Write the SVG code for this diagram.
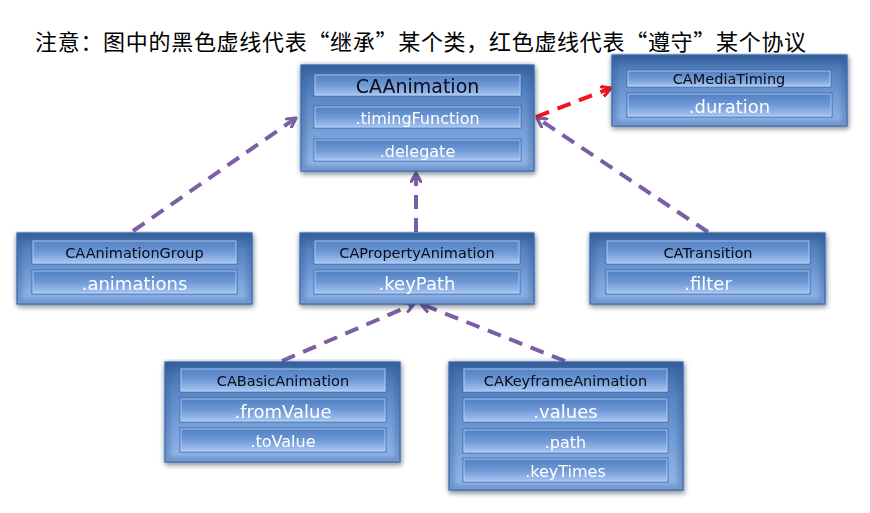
<svg xmlns="http://www.w3.org/2000/svg" width="870" height="513" viewBox="0 0 870 513">
<defs>
<linearGradient id="gOuter" x1="0" y1="0" x2="0" y2="1">
<stop offset="0" stop-color="#38659f"/>
<stop offset="0.25" stop-color="#5683c2"/>
<stop offset="1" stop-color="#95b9ec"/>
</linearGradient>
<linearGradient id="gRow" x1="0" y1="0" x2="0" y2="1">
<stop offset="0" stop-color="#4f7ebf"/>
<stop offset="0.5" stop-color="#6e98d6"/>
<stop offset="1" stop-color="#a9c8f3"/>
</linearGradient>
<filter id="shadow" x="-10%" y="-10%" width="120%" height="130%">
<feGaussianBlur in="SourceAlpha" stdDeviation="2"/>
<feOffset dx="1" dy="3" result="b"/>
<feComponentTransfer><feFuncA type="linear" slope="0.35"/></feComponentTransfer>
<feMerge><feMergeNode/><feMergeNode in="SourceGraphic"/></feMerge>
</filter>
<filter id="glow" x="-5%" y="-5%" width="110%" height="110%">
<feGaussianBlur stdDeviation="2.5"/>
</filter>
<marker id="ap" viewBox="0 0 12 12" refX="10" refY="6" markerWidth="12" markerHeight="12" markerUnits="userSpaceOnUse" orient="auto">
<path d="M1,1 L10,6 L1,11" fill="none" stroke="#7b5ea6" stroke-width="3.2" stroke-linecap="round" stroke-linejoin="round"/>
</marker>
<marker id="ar" viewBox="0 0 12 12" refX="10" refY="6" markerWidth="12" markerHeight="12" markerUnits="userSpaceOnUse" orient="auto">
<path d="M1,1 L10,6 L1,11" fill="none" stroke="#f0141c" stroke-width="3.2" stroke-linecap="round" stroke-linejoin="round"/>
</marker>
</defs>
<style>
.outer{fill:url(#gOuter);stroke:#3c6cad;stroke-width:1.2}
.edge{fill:none;stroke:#2c5592;stroke-width:5;opacity:0.45}
.row{fill:url(#gRow);stroke:#3e6cae;stroke-width:1}
.hl{fill:none;stroke:#b9d3f6;stroke-width:1;opacity:0.8}
.t{font-family:"DejaVu Sans","Liberation Sans",sans-serif;text-anchor:middle;dominant-baseline:central}
.title{fill:#0a0a14;font-size:14.5px}
.big{fill:#0a0a14;font-size:19px}
.a1{fill:#ffffff;font-size:18px}
.a2{fill:#ffffff;font-size:16px}
.cp{fill:none;stroke:#7b5ea6;stroke-width:4;stroke-dasharray:14 9}
.cr{fill:none;stroke:#f0141c;stroke-width:4;stroke-dasharray:14 9}
.note{font-family:"Noto Sans CJK SC","Noto Sans CJK JP",sans-serif;font-size:22px;fill:#000;letter-spacing:0.7px}
</style>

<text class="note" x="35" y="50">注意：图中的黑色虚线代表“继承”某个类，红色虚线代表“遵守”某个协议</text>

<g id="connectors">
<line class="cp" x1="133" y1="231" x2="296" y2="118" marker-end="url(#ap)"/>
<line class="cp" x1="416" y1="232" x2="416" y2="173" marker-end="url(#ap)"/>
<line class="cp" x1="708" y1="232" x2="537" y2="118" marker-end="url(#ap)"/>
<line class="cr" x1="536" y1="117" x2="611" y2="88" marker-end="url(#ar)"/>
<line class="cp" x1="282" y1="361" x2="414" y2="304" marker-end="url(#ap)"/>
<line class="cp" x1="565" y1="361" x2="421" y2="304" marker-end="url(#ap)"/>
</g>

<g id="CAAnimation" filter="url(#shadow)">
<rect class="outer" x="301" y="65" width="233" height="106"/>
<rect class="edge" x="303" y="67" width="229" height="102" filter="url(#glow)"/>
<rect class="row" x="314" y="74" width="207" height="22"/>
<rect class="hl" x="315" y="75" width="205" height="20"/>
<text class="t big" x="417.5" y="86">CAAnimation</text>
<rect class="row" x="314" y="106" width="207" height="22"/>
<rect class="hl" x="315" y="107" width="205" height="20"/>
<text class="t a2" x="417.5" y="118">.timingFunction</text>
<rect class="row" x="314" y="139" width="207" height="22"/>
<rect class="hl" x="315" y="140" width="205" height="20"/>
<text class="t a2" x="417.5" y="151">.delegate</text>
</g>

<g id="CAMediaTiming" filter="url(#shadow)">
<rect class="outer" x="612" y="55" width="235" height="71"/>
<rect class="edge" x="614" y="57" width="231" height="67" filter="url(#glow)"/>
<rect class="row" x="627" y="70" width="204" height="17"/>
<rect class="hl" x="628" y="71" width="202" height="15"/>
<text class="t title" x="729" y="79">CAMediaTiming</text>
<rect class="row" x="627" y="93" width="205" height="24"/>
<rect class="hl" x="628" y="94" width="203" height="22"/>
<text class="t a1" x="729.5" y="106">.duration</text>
</g>

<g id="CAAnimationGroup" filter="url(#shadow)">
<rect class="outer" x="17" y="233" width="235" height="71"/>
<rect class="edge" x="19" y="235" width="231" height="67" filter="url(#glow)"/>
<rect class="row" x="32" y="240" width="205" height="24"/>
<rect class="hl" x="33" y="241" width="203" height="22"/>
<text class="t title" x="134.5" y="253">CAAnimationGroup</text>
<rect class="row" x="32" y="270" width="205" height="24"/>
<rect class="hl" x="33" y="271" width="203" height="22"/>
<text class="t a1" x="134.5" y="283">.animations</text>
</g>

<g id="CAPropertyAnimation" filter="url(#shadow)">
<rect class="outer" x="300" y="233" width="234" height="71"/>
<rect class="edge" x="302" y="235" width="230" height="67" filter="url(#glow)"/>
<rect class="row" x="314" y="240" width="206" height="24"/>
<rect class="hl" x="315" y="241" width="204" height="22"/>
<text class="t title" x="417" y="253">CAPropertyAnimation</text>
<rect class="row" x="314" y="270" width="206" height="24"/>
<rect class="hl" x="315" y="271" width="204" height="22"/>
<text class="t a1" x="417" y="283">.keyPath</text>
</g>

<g id="CATransition" filter="url(#shadow)">
<rect class="outer" x="590" y="233" width="235" height="71"/>
<rect class="edge" x="592" y="235" width="231" height="67" filter="url(#glow)"/>
<rect class="row" x="606" y="240" width="204" height="24"/>
<rect class="hl" x="607" y="241" width="202" height="22"/>
<text class="t title" x="708" y="253">CATransition</text>
<rect class="row" x="606" y="270" width="204" height="24"/>
<rect class="hl" x="607" y="271" width="202" height="22"/>
<text class="t a1" x="708" y="283">.filter</text>
</g>

<g id="CABasicAnimation" filter="url(#shadow)">
<rect class="outer" x="165" y="362" width="235" height="100"/>
<rect class="edge" x="167" y="364" width="231" height="96" filter="url(#glow)"/>
<rect class="row" x="180" y="368" width="206" height="24"/>
<rect class="hl" x="181" y="369" width="204" height="22"/>
<text class="t title" x="283" y="381">CABasicAnimation</text>
<rect class="row" x="180" y="398" width="206" height="24"/>
<rect class="hl" x="181" y="399" width="204" height="22"/>
<text class="t a1" x="283" y="411">.fromValue</text>
<rect class="row" x="180" y="428" width="206" height="24"/>
<rect class="hl" x="181" y="429" width="204" height="22"/>
<text class="t a2" x="283" y="441">.toValue</text>
</g>

<g id="CAKeyframeAnimation" filter="url(#shadow)">
<rect class="outer" x="449" y="362" width="234" height="128"/>
<rect class="edge" x="451" y="364" width="230" height="124" filter="url(#glow)"/>
<rect class="row" x="463" y="368" width="205" height="24"/>
<rect class="hl" x="464" y="369" width="203" height="22"/>
<text class="t title" x="565.5" y="381">CAKeyframeAnimation</text>
<rect class="row" x="463" y="398" width="205" height="24"/>
<rect class="hl" x="464" y="399" width="203" height="22"/>
<text class="t a1" x="565.5" y="411">.values</text>
<rect class="row" x="463" y="429" width="205" height="24"/>
<rect class="hl" x="464" y="430" width="203" height="22"/>
<text class="t a2" x="565.5" y="442">.path</text>
<rect class="row" x="463" y="458" width="205" height="24"/>
<rect class="hl" x="464" y="459" width="203" height="22"/>
<text class="t a2" x="565.5" y="471">.keyTimes</text>
</g>
</svg>
